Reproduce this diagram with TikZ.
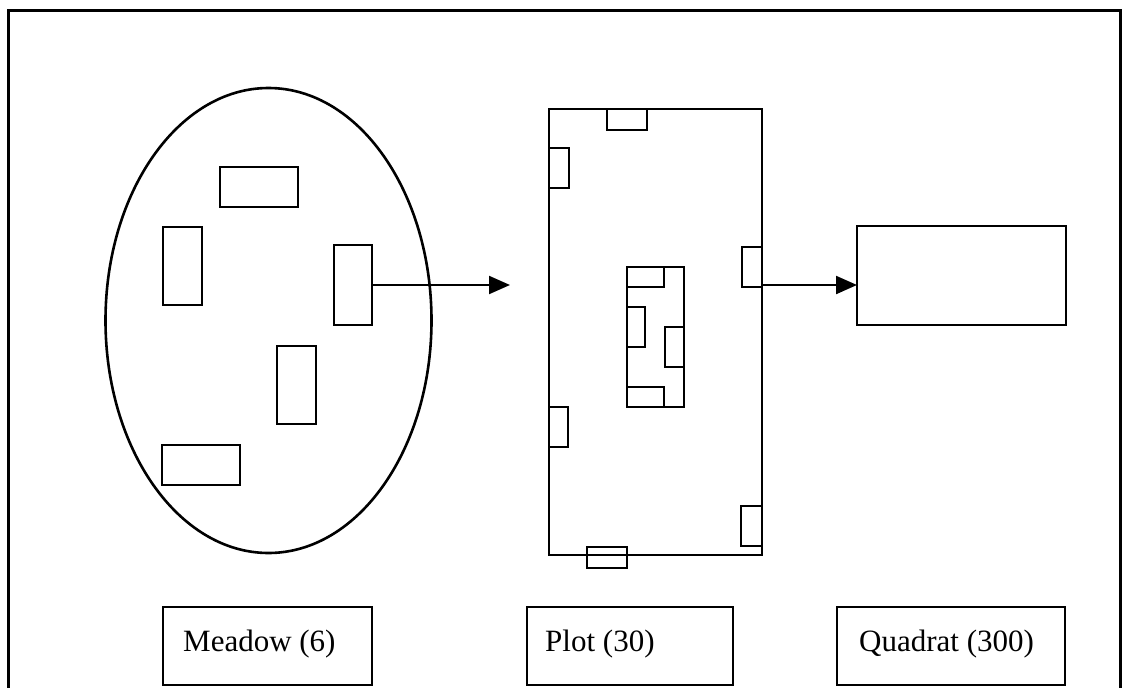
\documentclass[tikz,border=0pt]{standalone}
\usepackage{fontspec}
\setmainfont{Liberation Serif}
\usetikzlibrary{arrows.meta,shapes.geometric}
\tikzset{
  rbx/.style={draw=black, line width=2.8pt, inner sep=0pt, outer sep=0pt, rectangle},
  lbl/.style={font=\fontsize{31}{36}\selectfont, anchor=base west, inner sep=0pt},
  arr/.style={line width=2.2pt, -{Triangle[length=21pt,width=18pt]}},
}
\newcommand\rb[5]{\node[rbx, minimum width={(#4)-(#2)}, minimum height={(#5)-(#3)}] (#1) at ({((#2)+(#4))/2},{((#3)+(#5))/2}) {};}
\begin{document}
\begin{tikzpicture}[x=1pt,y=-1pt]
\useasboundingbox (0,0) rectangle (1125,688);
% outer frame
\draw[line width=3pt] (8,690) -- (8,10) -- (1120,10) -- (1120,690);
% meadow
\node[draw, line width=2.6pt, ellipse, minimum width=326pt, minimum height=465pt, inner sep=0pt] (meadow) at (268.5,320.5) {};
\rb{m1}{220}{167}{298}{207}
\rb{m2}{163}{227}{202}{305}
\rb{m3}{334}{245}{372}{325}
\rb{m4}{277}{346}{316}{424}
\rb{m5}{162}{445}{240}{485}
% plot
\rb{plot}{549}{109}{762}{555}
\rb{p1}{607}{109}{647}{130}
\rb{p2}{549}{148}{569}{188}
\rb{p3}{742}{247}{762}{287}
\rb{p4}{549}{407}{568}{447}
\rb{p5}{741}{506}{762}{546}
\rb{p6}{587}{547}{627}{568}
% centre cluster
\rb{c0}{627}{267}{684}{407}
\rb{c1}{627}{267}{664}{287}
\rb{c2}{627}{307}{645}{347}
\rb{c3}{665}{327}{684}{367}
\rb{c4}{627}{387}{664}{407}
% quadrat
\rb{quad}{857}{226}{1066}{325}
% arrows
\coordinate (a1) at (510,285);
\draw[arr] (m3.east) -- (a1);
\draw[arr] ([yshift=2pt]p3.south east) -- ([yshift=2pt]p3.south east -| quad.west);
% labels
\rb{lm}{163}{607}{372}{685}
\rb{lp}{527}{607}{733}{685}
\rb{lq}{837}{607}{1065}{685}
\node[lbl] (tm) at (183,651) {Meadow (6)};
\node[lbl] (tp) at (545,651) {Plot (30)};
\node[lbl] (tq) at (859,651) {Quadrat (300)};
\end{tikzpicture}
\end{document}
